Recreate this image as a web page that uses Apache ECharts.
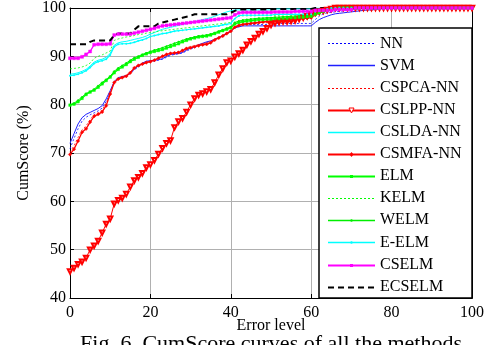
<!DOCTYPE html>
<html>
<head>
<meta charset="utf-8">
<script src="https://cdn.jsdelivr.net/npm/echarts@6/dist/echarts.min.js"></script>
<style>
html,body{margin:0;padding:0;background:#fff;}
#chart{width:492px;height:345px;}
</style>
</head>
<body>
<div id="chart"></div>
<script>
const errorLevel = [0,1,2,3,4,5,6,7,8,9,10,11,12,13,14,15,16,17,18,19,20,21,22,23,24,25,26,27,28,29,30,31,32,33,34,35,36,37,38,39,40,41,42,43,44,45,46,47,48,49,50,51,52,53,54,55,56,57,58,59,60,61,62,63,64,65,66,67,68,69,70,71,72,73,74,75,76,77,78,79,80,81,82,83,84,85,86,87,88,89,90,91,92,93,94,95,96,97,98,99,100];

const xTicks = [0,20,40,60,80,100];
const yTicks = [40,50,60,70,80,90,100];

const seriesNames = ['NN','SVM','CSPCA-NN','CSLPP-NN','CSLDA-NN','CSMFA-NN','ELM','KELM','WELM','E-ELM','CSELM','ECSELM'];

const NN = [70.9,73.0,75.0,76.6,77.4,77.9,78.3,78.7,79.3,80.7,82.5,
84.5,85.4,85.6,85.8,86.4,87.2,87.8,88.3,88.7,88.9,
89.0,89.2,89.4,89.8,90.2,90.4,90.5,90.7,91.1,91.5,
91.8,92.2,92.5,92.8,93.0,93.4,93.8,94.2,94.7,95.1,
95.9,96.3,96.6,96.6,96.6,96.6,96.6,96.6,96.6,96.6,
96.8,96.8,96.8,96.8,96.8,96.8,96.8,96.8,96.8,96.8,
97.6,98.3,98.8,99.0,99.1,99.2,99.3,99.4,99.5,99.6,
99.7,99.8,99.9,100,100,100,100,100,100,100,
100,100,100,100,100,100,100,100,100,100,
100,100,100,100,100,100,100,100,100,100];

const SVM = [72.0,74.0,76.0,77.3,78.0,78.4,78.8,79.2,79.8,81.2,82.9,
84.8,85.6,85.8,86.0,86.6,87.4,88.0,88.6,89.0,89.1,
89.2,89.3,89.5,90.0,90.4,90.5,90.6,90.8,91.3,91.7,
92.0,92.4,92.7,93.0,93.2,93.5,93.9,94.3,94.8,95.2,
95.9,96.1,96.3,96.3,96.3,96.3,96.3,96.3,96.3,96.3,
96.3,96.3,96.3,96.3,96.3,96.3,96.3,96.3,96.3,96.3,
97.0,97.6,98.0,98.3,98.6,98.8,98.9,99.0,99.1,99.2,
99.3,99.4,99.5,99.6,99.6,99.7,99.8,99.9,99.9,100,
100,100,100,100,100,100,100,100,100,100,
100,100,100,100,100,100,100,100,100,100];

const CSPCA_NN = [70.2,71.5,73.2,74.8,75.6,76.9,77.9,78.3,78.9,80.3,82.6,
84.8,85.5,85.8,86.1,86.8,87.7,88.2,88.5,88.8,89.0,
89.3,89.7,90.1,90.5,90.7,90.8,91.0,91.4,91.8,92.0,
92.2,92.4,92.6,92.8,93.1,93.6,94.0,94.4,94.9,95.4,
96.1,96.5,96.7,96.8,96.9,97.0,97.1,97.2,97.3,97.4,
97.5,97.5,97.6,97.6,97.7,97.7,97.8,97.8,97.9,98.0,
98.6,99.0,99.3,99.6,99.8,100,100,100,100,100,
100,100,100,100,100,100,100,100,100,100,
100,100,100,100,100,100,100,100,100,100,
100,100,100,100,100,100,100,100,100,100];

const CSLPP_NN = [45.5,46.2,47.0,47.5,48.3,50.0,50.8,51.8,53.5,55.3,56.4,
59.5,60.2,60.7,61.5,63.0,64.3,65.0,65.8,67.0,67.6,
68.5,69.8,71.0,72.0,72.6,75.3,76.5,77.2,78.5,80.0,
81.3,82.0,82.3,82.7,83.2,84.6,86.2,87.5,88.7,89.1,
89.9,90.6,91.3,92.4,93.1,93.8,94.6,95.2,95.8,96.5,
96.9,97.1,97.2,97.2,97.3,97.4,97.7,98.0,98.3,98.6,
99.0,99.2,99.4,99.6,99.8,100,100,100,100,100,
100,100,100,100,100,100,100,100,100,100,
100,100,100,100,100,100,100,100,100,100,
100,100,100,100,100,100,100,100,100,100];

const CSLDA_NN = [86.3,86.4,86.6,86.9,87.3,88.0,88.8,89.2,89.4,89.8,90.6,
92.3,92.8,93.0,93.1,93.3,93.5,93.7,93.9,94.2,94.6,
94.9,95.3,95.6,95.8,96.0,96.2,96.4,96.6,96.8,97.0,
97.2,97.4,97.6,97.8,98.0,98.3,98.6,98.9,99.2,99.4,
99.6,99.6,99.6,99.6,99.6,99.6,99.6,99.6,99.6,99.6,
99.8,99.8,99.8,99.8,99.8,99.8,99.8,99.8,99.8,99.8,
100,100,100,100,100,100,100,100,100,100,
100,100,100,100,100,100,100,100,100,100,
100,100,100,100,100,100,100,100,100,100,
100,100,100,100,100,100,100,100,100,100];

const CSMFA_NN = [69.7,70.8,72.5,74.3,75.0,76.4,77.6,78.0,78.5,79.8,82.2,
84.6,85.3,85.6,85.9,86.6,87.6,88.1,88.4,88.7,88.9,
89.2,89.6,90.0,90.4,90.6,90.7,90.8,91.2,91.6,91.8,
92.0,92.2,92.4,92.5,92.8,93.4,93.8,94.2,94.7,95.2,
96.0,96.4,96.6,96.7,96.8,96.9,97.0,97.1,97.2,97.3,
97.4,97.4,97.5,97.5,97.6,97.6,97.7,97.8,97.9,98.0,
98.6,99.0,99.3,99.6,99.8,100,100,100,100,100,
100,100,100,100,100,100,100,100,100,100,
100,100,100,100,100,100,100,100,100,100,
100,100,100,100,100,100,100,100,100,100];

const ELM = [79.9,80.1,80.6,81.3,82.1,82.6,83.0,83.6,84.3,85.0,85.7,
86.6,87.3,87.8,88.3,88.9,89.4,89.8,90.2,90.5,90.8,
91.0,91.2,91.4,91.7,92.0,92.3,92.6,93.0,93.3,93.6,
93.8,94.0,94.1,94.2,94.4,94.7,95.0,95.3,95.6,95.9,
96.7,97.0,97.2,97.3,97.4,97.5,97.6,97.6,97.7,97.7,
97.8,97.8,97.9,97.9,98.0,98.0,98.1,98.1,98.2,98.3,
98.7,99.0,99.3,99.5,99.7,99.8,100,100,100,100,
100,100,100,100,100,100,100,100,100,100,
100,100,100,100,100,100,100,100,100,100,
100,100,100,100,100,100,100,100,100,100];

const KELM = [87.4,87.5,87.6,87.8,88.1,88.6,89.6,90.0,90.3,90.7,91.1,
93.3,93.6,93.8,94.0,94.1,94.3,94.5,94.6,94.8,94.9,
95.0,95.2,95.3,95.4,95.5,95.6,95.7,95.8,95.9,96.0,
96.1,96.2,96.3,96.4,96.5,96.6,96.7,96.8,96.9,97.0,
97.8,98.3,98.4,98.4,98.4,98.4,98.5,98.5,98.5,98.5,
98.5,98.5,98.6,98.6,98.6,98.6,98.6,98.6,98.6,98.6,
99.3,99.6,99.8,100,100,100,100,100,100,100,
100,100,100,100,100,100,100,100,100,100,
100,100,100,100,100,100,100,100,100,100,
100,100,100,100,100,100,100,100,100,100];

const WELM = [80.0,80.3,80.9,81.6,82.3,82.7,83.2,83.9,84.6,85.2,85.9,
86.9,87.6,88.1,88.6,89.2,89.7,90.0,90.4,90.7,91.0,
91.3,91.5,91.8,92.1,92.4,92.7,93.0,93.3,93.6,93.8,
94.0,94.2,94.3,94.4,94.6,94.9,95.2,95.5,95.8,96.1,
97.0,97.3,97.5,97.6,97.7,97.8,97.9,97.9,98.0,98.0,
98.1,98.1,98.2,98.2,98.3,98.3,98.4,98.4,98.5,98.5,
98.9,99.3,99.5,99.7,99.8,100,100,100,100,100,
100,100,100,100,100,100,100,100,100,100,
100,100,100,100,100,100,100,100,100,100,
100,100,100,100,100,100,100,100,100,100];

const E_ELM = [86.0,86.1,86.3,86.6,87.0,87.7,88.5,88.9,89.1,89.4,90.3,
92.0,92.5,92.6,92.6,92.7,92.9,93.2,93.4,93.7,94.1,
94.3,94.5,94.7,94.8,95.0,95.2,95.3,95.4,95.5,95.6,
95.7,95.8,95.9,96.0,96.1,96.2,96.3,96.5,96.6,96.8,
97.8,98.4,98.5,98.5,98.5,98.5,98.5,98.5,98.5,98.5,
98.7,98.7,98.7,98.7,98.7,98.7,98.7,98.7,98.7,98.7,
99.2,99.4,99.6,99.8,100,100,100,100,100,100,
100,100,100,100,100,100,100,100,100,100,
100,100,100,100,100,100,100,100,100,100,
100,100,100,100,100,100,100,100,100,100];

const CSELM = [89.6,89.6,89.6,89.9,90.4,91.0,92.4,92.5,92.5,92.5,92.6,
94.4,94.6,94.6,94.6,94.6,94.8,95.0,95.2,95.4,95.6,
95.8,96.1,96.3,96.4,96.5,96.6,96.7,96.8,96.9,97.0,
97.1,97.2,97.3,97.4,97.5,97.6,97.7,97.8,97.9,98.0,
98.6,99.0,99.1,99.1,99.1,99.1,99.1,99.1,99.1,99.1,
99.2,99.2,99.2,99.2,99.2,99.3,99.3,99.3,99.3,99.3,
99.5,99.5,99.5,99.5,99.5,99.7,99.7,99.7,99.7,99.7,
100,100,100,100,100,100,100,100,100,100,
100,100,100,100,100,100,100,100,100,100,
100,100,100,100,100,100,100,100,100,100];

const ECSELM = [92.5,92.5,92.5,92.5,92.5,93.0,93.3,93.3,93.3,93.3,93.3,
94.4,94.7,94.7,94.7,94.7,95.5,96.2,96.2,96.2,96.2,
96.2,96.8,97.0,97.2,97.4,97.6,97.8,98.0,98.2,98.4,
98.7,98.7,98.7,98.7,98.7,98.7,98.7,98.7,98.7,99.0,
99.4,99.7,99.7,99.7,99.7,99.7,99.7,99.7,99.7,99.7,
99.8,99.8,99.8,99.8,99.8,99.8,99.8,99.8,99.8,99.8,
100,100,100,100,100,100,100,100,100,100,
100,100,100,100,100,100,100,100,100,100,
100,100,100,100,100,100,100,100,100,100,
100,100,100,100,100,100,100,100,100,100];

const seriesValues = [NN, SVM, CSPCA_NN, CSLPP_NN, CSLDA_NN, CSMFA_NN, ELM, KELM, WELM, E_ELM, CSELM, ECSELM];

const FONT = 'Liberation Serif';

// style table (colours / widths / markers)
const styles = [
  {color:'#0000ff', width:0.8, type:[2,2], symbol:'none', legW:1},
  {color:'#2020ff', width:1, type:'solid', symbol:'none', legW:1.6},
  {color:'#ff0000', width:0.8, type:[2,2], symbol:'none', legW:1},
  {color:'#ff0000', width:1, type:'solid', symbol:'emptyTriangle', size:4.5, rotate:180, bw:0.8, legW:2},
  {color:'#00ffff', width:1, type:'solid', symbol:'none', legW:1.4},
  {color:'#ff0000', width:1.3, type:'solid', symbol:'diamond', size:3.5, bw:0.4, legW:2.2},
  {color:'#00ff00', width:1.3, type:'solid', symbol:'rect', size:2.6, bw:0.4, legW:1.8},
  {color:'#00ff00', width:0.8, type:[2,2], symbol:'none', legW:1},
  {color:'#00ee00', width:1, type:'solid', symbol:'circle', size:2, bw:0, legW:1.6},
  {color:'#00ffff', width:1.2, type:'solid', symbol:'circle', size:2, bw:0, legW:1.6},
  {color:'#ff00ff', width:1.4, type:'solid', symbol:'rect', size:3, bw:0.4, legW:2.2},
  {color:'#000000', width:2, type:[6,4], symbol:'none', legW:2}
];

const series = seriesNames.map((name, k) => {
  const s = styles[k];
  return {
    name: name,
    type: 'line',
    data: errorLevel.map((x, i) => [x, seriesValues[k][i]]),
    symbol: s.symbol,
    symbolSize: s.size || 4,
    symbolRotate: s.rotate || 0,
    showSymbol: s.symbol !== 'none',
    lineStyle: {color: s.color, width: s.width, type: s.type},
    itemStyle: {color: s.color, borderColor: s.color, borderWidth: s.bw || 0},
    animation: false,
    silent: true,
    z: 2
  };
});

// hand-drawn legend box (Matlab style)
const legendX = 319, legendY = 28, legendW = 153, legendH = 270;
const rowStart = 43.3, rowStep = 22.12, lineX1 = 328, lineX2 = 375, textX = 380;
const graphics = [
  {type: 'rect', z: 5, shape: {x: legendX, y: legendY, width: legendW, height: legendH},
   style: {fill: '#fff', stroke: '#000', lineWidth: 1.5}}
];
seriesNames.forEach((name, k) => {
  const s = styles[k];
  const yText = rowStart + rowStep * k;
  const y = Math.round(yText) + 0.5;
  const dash = Array.isArray(s.type) ? s.type : null;
  graphics.push({type: 'line', z: 6, shape: {x1: lineX1, y1: y, x2: lineX2, y2: y},
    style: {stroke: s.color, lineWidth: s.legW, lineDash: dash}});
  const cx = (lineX1 + lineX2) / 2;
  if (s.symbol === 'emptyTriangle') {
    graphics.push({type: 'polygon', z: 7, shape: {points: [[cx-2.5, y-2.5],[cx+2.5, y-2.5],[cx, y+2.5]]},
      style: {fill: '#fff', stroke: s.color, lineWidth: 1}});
  } else if (s.symbol === 'diamond') {
    graphics.push({type: 'polygon', z: 7, shape: {points: [[cx, y-2.5],[cx+2, y],[cx, y+2.5],[cx-2, y]]},
      style: {fill: s.color}});
  } else if (s.symbol === 'rect') {
    graphics.push({type: 'rect', z: 7, shape: {x: cx-1.5, y: y-1.5, width: 3, height: 3},
      style: {fill: s.color}});
  } else if (s.symbol === 'circle') {
    graphics.push({type: 'circle', z: 7, shape: {cx: cx, cy: y, r: 1.2},
      style: {fill: s.color}});
  }
  graphics.push({type: 'text', z: 7, x: textX, y: yText,
    style: {text: name, font: '16px "Liberation Serif"', fill: '#000', textVerticalAlign: 'middle', verticalAlign: 'middle'}});
});
graphics.push({type: 'text', z: 7, x: 271, y: 333,
  style: {text: 'Fig. 6. CumScore curves of all the methods', font: '22px "Liberation Serif"', fill: '#000', textAlign: 'center', align: 'center'}});

const chart = echarts.init(document.getElementById('chart'), null, {renderer: 'canvas'});

const labelStyle = {fontFamily: FONT, fontSize: 16, color: '#000'};

chart.setOption({
  animation: false,
  backgroundColor: '#ffffff',
  grid: {left: 70, right: 20, top: 7, bottom: 47, containLabel: false},
  xAxis: [
    {
      type: 'value', min: xTicks[0], max: xTicks[xTicks.length-1], interval: 20,
      position: 'bottom',
      axisLine: {show: true, onZero: false, lineStyle: {color: '#000', width: 1}},
      axisTick: {show: true, inside: true, length: 4, lineStyle: {color: '#000'}},
      axisLabel: Object.assign({margin: 7}, labelStyle),
      splitLine: {show: true, lineStyle: {color: '#b0b0b0', width: 1}},
      name: 'Error level', nameLocation: 'middle', nameGap: 20, nameMoveOverlap: false,
      nameTextStyle: labelStyle
    },
    {
      type: 'value', min: xTicks[0], max: xTicks[xTicks.length-1], interval: 20,
      position: 'top',
      axisLine: {show: true, onZero: false, lineStyle: {color: '#000', width: 1}},
      axisTick: {show: true, inside: true, length: 4, lineStyle: {color: '#000'}},
      axisLabel: {show: false},
      splitLine: {show: false}
    }
  ],
  yAxis: [
    {
      type: 'value', min: yTicks[0], max: yTicks[yTicks.length-1], interval: 10,
      position: 'left',
      axisLine: {show: true, onZero: false, lineStyle: {color: '#000', width: 1}},
      axisTick: {show: true, inside: true, length: 4, lineStyle: {color: '#000'}},
      axisLabel: Object.assign({margin: 4}, labelStyle),
      splitLine: {show: true, lineStyle: {color: '#b0b0b0', width: 1}},
      name: 'CumScore (%)', nameLocation: 'middle', nameGap: 38, nameMoveOverlap: false,
      nameTextStyle: labelStyle
    },
    {
      type: 'value', min: yTicks[0], max: yTicks[yTicks.length-1], interval: 10,
      position: 'right',
      axisLine: {show: true, onZero: false, lineStyle: {color: '#000', width: 1}},
      axisTick: {show: true, inside: true, length: 4, lineStyle: {color: '#000'}},
      axisLabel: {show: false},
      splitLine: {show: false}
    }
  ],
  graphic: graphics,
  series: series
});
</script>
</body>
</html>
